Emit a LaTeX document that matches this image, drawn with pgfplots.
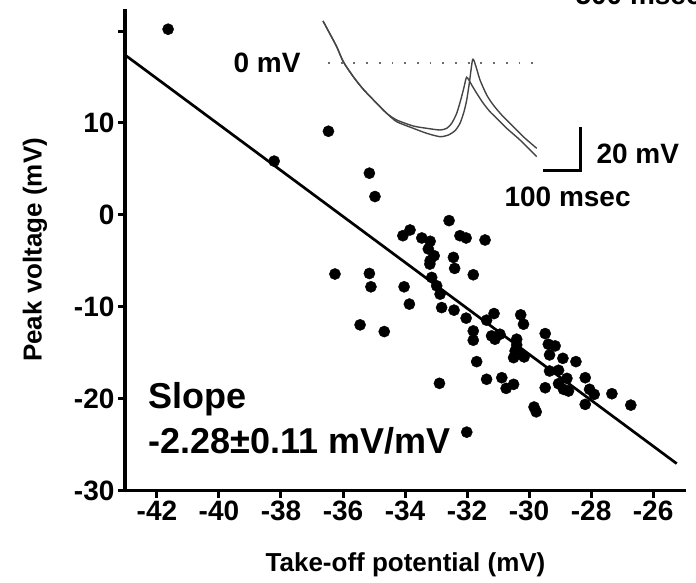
\documentclass[border=0pt]{standalone}
\usepackage{pgfplots}
\pgfplotsset{compat=1.18}
\usepackage{fontspec}
\setmainfont{Liberation Sans}
\definecolor{trace}{HTML}{454545}
\begin{document}
\begin{tikzpicture}[font=\bfseries]
\useasboundingbox (0,0) rectangle (696pt,582pt);
\begin{axis}[
  at={(125pt,91.3pt)}, anchor=south west,
  scale only axis, width=561pt, height=481.7pt,
  xmin=-43.03, xmax=-24.94, ymin=-30, ymax=22.4,
  axis x line*=bottom, axis y line*=left,
  x axis line style={-}, y axis line style={-},
  axis line style={line width=3.5pt, black},
  tick align=outside, major tick length=7pt,
  tick style={line width=3pt, black},
  xtick={-42,-40,-38,-36,-34,-32,-30,-28,-26},
  xticklabels={-42,-40,-38,-36,-34,-32,-30,-28,-26},
  ytick={-30,-20,-10,0,10,20},
  yticklabels={-30,-20,-10,0,10,{}},
  /pgf/number format/assume math mode=true,
  ticklabel style={font=\fontsize{28}{30}\selectfont\bfseries},
  xlabel={Take-off potential (mV)},
  ylabel={Peak voltage (mV)},
  label style={font=\fontsize{26}{28}\selectfont\bfseries},
  xlabel style={at={(axis description cs:0.5,0)}, anchor=center, yshift=-74pt},
  ylabel style={at={(axis description cs:0,0.5)}, anchor=center, yshift=90pt},
  clip=false,
]
\addplot[only marks, mark=*, mark size=5.6pt, black] coordinates {
(-41.64,20.2) (-38.22,5.85) (-36.47,9.1) (-36.26,-6.43) (-35.15,4.54) (-34.97,2.0)
(-32.58,-0.62) (-34.07,-2.26) (-33.84,-1.64) (-33.46,-2.51) (-33.19,-2.87) (-33.25,-3.7)
(-33.06,-4.44) (-33.19,-4.98) (-33.2,-5.35) (-32.23,-2.26) (-32.03,-2.51) (-31.42,-2.73)
(-32.44,-4.62) (-32.4,-5.82) (-31.8,-6.51) (-35.15,-6.37) (-35.1,-7.82) (-34.03,-7.82)
(-33.14,-6.8) (-32.98,-7.71) (-32.87,-8.62) (-33.86,-9.7) (-32.82,-10.08) (-32.42,-10.36)
(-32.03,-11.23) (-35.45,-11.96) (-34.67,-12.69) (-31.8,-12.62) (-31.8,-13.63) (-31.69,-15.96)
(-32.89,-18.32) (-31.37,-17.88) (-30.88,-17.71) (-30.74,-18.87) (-30.5,-18.43) (-31.37,-11.45)
(-31.13,-10.73) (-31.21,-13.16) (-30.94,-12.98) (-31.1,-13.52) (-30.4,-13.52) (-30.27,-10.87)
(-30.18,-11.89) (-30.4,-14.14) (-30.45,-14.8) (-30.5,-15.53) (-30.29,-15.16) (-30.16,-15.45)
(-29.48,-12.91) (-29.38,-14.07) (-29.16,-14.25) (-29.34,-15.23) (-28.91,-15.6) (-28.49,-15.96)
(-29.34,-16.98) (-29.05,-16.9) (-28.78,-17.78) (-29.05,-18.36) (-28.89,-18.97) (-28.73,-19.16)
(-29.48,-18.8) (-28.19,-17.71) (-28.05,-18.97) (-27.9,-19.52) (-28.19,-20.61) (-27.33,-19.45)
(-26.72,-20.69) (-29.84,-20.9) (-29.77,-21.42) (-32.01,-23.63)
};
\addplot[black, line width=2.7pt] coordinates {(-43.03,17.4) (-25.24,-27.05)};
\end{axis}
% inset and annotations in image pixel coordinates
\begin{axis}[
  at={(0,0)}, anchor=south west,
  scale only axis, width=696pt, height=582pt,
  xmin=0, xmax=696, ymin=0, ymax=582, y dir=reverse,
  hide axis, clip=false,
]
\addplot[trace, line width=1.4pt, smooth, tension=0.4] coordinates {
(323,21) (330,34) (336.7,46.7) (343.3,61.7) (353.3,76.7) (363.3,89.3) (376.7,103.3)
(386.7,113.3) (396.7,120) (413.3,126) (426.7,128.3) (440,130) (446.7,128.3) (451.7,123.3)
(456.7,113.3) (460.7,100) (464,87.3) (466.7,77.3) (471.7,85) (476.7,93.3) (483.3,103.3)
(490,111.7) (496.7,118.3) (506.7,128.3) (520,140) (536.7,156.7)
};
\addplot[trace, line width=1.4pt, smooth, tension=0.4] coordinates {
(323,21) (330,34) (336.7,46.7) (343.3,61.7) (353.3,76.7) (363.3,89.3) (376.7,103.3)
(386.7,113.3) (396.7,121.7) (413.3,128.3) (426.7,133.3) (440,136.7) (448.3,135) (455,130.7)
(460,123.3) (464,111.7) (466.7,100) (469.3,83.3) (472.7,59.3) (476,66.7) (480,80)
(486.7,95) (493.3,105) (501.7,115) (511.7,125) (523.3,136.7) (536.7,148.3)
};
\addplot[gray!85!black, line width=2pt, dash pattern=on 1.8pt off 10.9pt] coordinates {(328,63.3) (536,63.3)};
\addplot[black, line width=3pt] coordinates {(543,170) (580,170) (580,127)};
\node[anchor=base west, font=\fontsize{28}{30}\selectfont\bfseries] at (axis cs:230,72) {0 mV};
\node[anchor=base west, font=\fontsize{28}{30}\selectfont\bfseries] at (axis cs:593,163) {20 mV};
\node[anchor=base west, font=\fontsize{28}{30}\selectfont\bfseries] at (axis cs:501,206) {100 msec};
\node[anchor=base west, font=\fontsize{28}{30}\selectfont\bfseries] at (axis cs:572,4) {500 msec};
\node[anchor=base west, font=\fontsize{36}{40}\selectfont\bfseries] at (axis cs:145,408) {Slope};
\node[anchor=base west, font=\fontsize{36}{40}\selectfont\bfseries] at (axis cs:145,453) {-2.28±0.11 mV/mV};
\end{axis}
\end{tikzpicture}
\end{document}
